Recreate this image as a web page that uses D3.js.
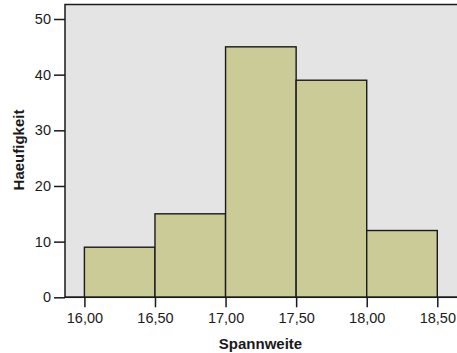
<!DOCTYPE html>
<html>
<head>
<meta charset="utf-8">
<script src="https://cdn.jsdelivr.net/npm/d3@7"></script>
<style>
  html, body { margin: 0; padding: 0; background: #fff; }
  svg { display: block; }
  text { font-family: "Liberation Sans", Arial, Helvetica, sans-serif; fill: #1a1a1a; }
</style>
</head>
<body>
<svg id="chart" width="457" height="353"></svg>
<script>
// Histogram of Spannweite: bin edges and counts
const binStarts = [16.0, 16.5, 17.0, 17.5, 18.0];
const binWidth = 0.5;
const counts = [9, 15, 45, 39, 12];
const xTicks = [16.0, 16.5, 17.0, 17.5, 18.0, 18.5];
const yTicks = [0, 10, 20, 30, 40, 50];
const xTitle = "Spannweite";
const yTitle = "Haeufigkeit";

const svg = d3.select("#chart");
const plot = { left: 65, right: 460, top: 4.5, bottom: 297.3 };

const x = d3.scaleLinear()
  .domain([16.0, 18.5])
  .range([84.4, 437.3]);
const y = d3.scaleLinear()
  .domain([0, 50])
  .range([plot.bottom, 19.0]);

const fmt = v => d3.format(".2f")(v).replace(".", ",");

// plot background
svg.append("rect")
  .attr("x", plot.left).attr("y", plot.top)
  .attr("width", plot.right - plot.left)
  .attr("height", plot.bottom - plot.top)
  .attr("fill", "#e4e4e4")
  .attr("stroke", "#1a1a1a")
  .attr("stroke-width", 1.5);

// bars
svg.append("g").selectAll("rect")
  .data(binStarts.map((s, i) => ({ s, c: counts[i] })))
  .join("rect")
  .attr("x", d => x(d.s))
  .attr("y", d => y(d.c))
  .attr("width", d => x(d.s + binWidth) - x(d.s))
  .attr("height", d => y(0) - y(d.c))
  .attr("fill", "#cbcb98")
  .attr("stroke", "#1a1a1a")
  .attr("stroke-width", 1.4);

// x axis
const xAxis = svg.append("g")
  .attr("transform", `translate(0,${plot.bottom})`)
  .call(d3.axisBottom(x).tickValues(xTicks).tickFormat(fmt).tickSize(10).tickPadding(5));
xAxis.select(".domain").remove();
xAxis.append("line")
  .attr("x1", plot.left).attr("x2", plot.right)
  .attr("stroke", "#1a1a1a").attr("stroke-width", 1.5);

// y axis
const yAxis = svg.append("g")
  .attr("transform", `translate(${plot.left},0)`)
  .call(d3.axisLeft(y).tickValues(yTicks).tickFormat(d3.format("d")).tickSize(11).tickPadding(3));
yAxis.select(".domain").remove();

svg.selectAll(".tick line").attr("stroke", "#1a1a1a").attr("stroke-width", 1.5);
svg.selectAll(".tick text")
  .attr("font-size", "14.5px")
  .attr("font-family", "'Liberation Sans', Arial, sans-serif")
  .attr("fill", "#1a1a1a");

// axis titles
svg.append("text")
  .attr("x", 260.5).attr("y", 349)
  .attr("text-anchor", "middle")
  .attr("font-size", "15px")
  .attr("font-weight", "bold")
  .text(xTitle);

svg.append("text")
  .attr("transform", "translate(23.5,150) rotate(-90)")
  .attr("text-anchor", "middle")
  .attr("font-size", "15px")
  .attr("font-weight", "bold")
  .text(yTitle);
</script>
</body>
</html>
